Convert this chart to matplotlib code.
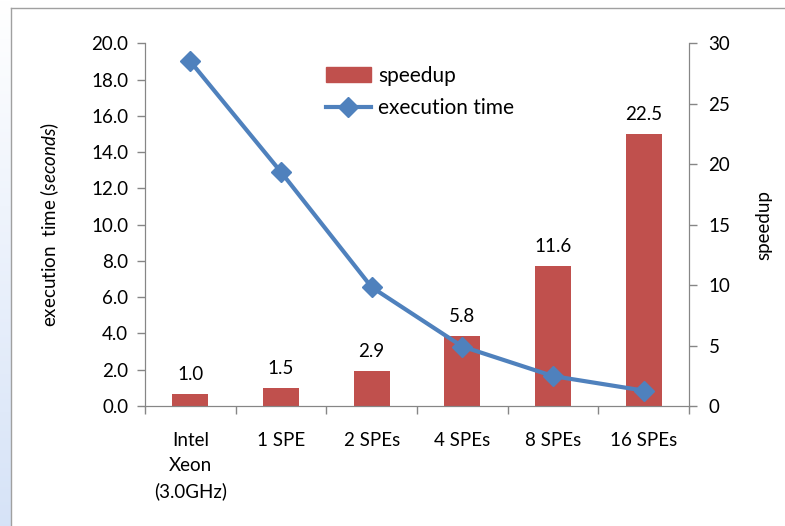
import numpy as np
import matplotlib
matplotlib.use("Agg")
import matplotlib.pyplot as plt
from matplotlib.lines import Line2D
from matplotlib.patches import Patch

plt.rcParams['font.family'] = ['Lato', 'DejaVu Sans']
plt.rcParams['mathtext.fontset'] = 'custom'
plt.rcParams['mathtext.rm'] = 'Lato'
plt.rcParams['mathtext.it'] = 'Lato:italic'

categories = ["Intel\nXeon\n(3.0GHz)", "1 SPE", "2 SPEs", "4 SPEs", "8 SPEs", "16 SPEs"]
exec_time = [19.0, 12.9, 6.55, 3.28, 1.65, 0.85]
speedup = [1.0, 1.5, 2.9, 5.8, 11.6, 22.5]
left_ticks = [0, 2, 4, 6, 8, 10, 12, 14, 16, 18, 20]
right_ticks = [0, 5, 10, 15, 20, 25, 30]

red = "#C0504D"
blue = "#4F81BD"
grey = "#868686"
fs = 13.5

fig = plt.figure(figsize=(7.85, 5.26), dpi=100)

# slide background strip and frame
strip = fig.add_axes([0, 0, 11 / 785, 1])
grad = np.linspace(0, 1, 256).reshape(-1, 1)
c0 = np.array([1.0, 1.0, 1.0])
c1 = np.array([0.84, 0.89, 0.97])
img = c0 + (c1 - c0) * grad[..., None]
strip.imshow(img, aspect="auto", extent=[0, 1, 0, 1], origin="upper")
strip.axis("off")
fig.add_artist(Line2D([11 / 785, 11 / 785], [0, 1 - 8 / 526], color="#a0a0a0", lw=1))
fig.add_artist(Line2D([11 / 785, 1], [1 - 8 / 526, 1 - 8 / 526], color="#a0a0a0", lw=1))

ax = fig.add_axes([145 / 785, 1 - 406 / 526, 544 / 785, 362.7 / 526])
ax2 = ax.twinx()
ax.set_zorder(ax2.get_zorder() + 1)
ax.patch.set_visible(False)

x = np.arange(len(categories))
bars = ax2.bar(x, speedup, width=0.4, color=red, zorder=2)
for xi, v in zip(x, speedup):
    ax2.annotate(f"{v:.1f}", (xi, v), xytext=(0, 8), textcoords="offset points",
                 ha="center", va="bottom", fontsize=fs)

ax.plot(x, exec_time, color=blue, lw=3, marker="D", markersize=10, zorder=3)

ax.set_xlim(-0.5, len(categories) - 0.5)
ax.set_ylim(0, 20)
ax2.set_ylim(0, 30)
ax.set_yticks(left_ticks)
ax.set_yticklabels([f"{t:.1f}" for t in left_ticks])
ax2.set_yticks(right_ticks)

# category labels centred, separator ticks between categories
ax.set_xticks(np.arange(-0.5, len(categories), 1.0))
ax.set_xticklabels([])
ax.set_xticks(x, minor=True)
ax.set_xticklabels(categories, minor=True, linespacing=1.55, va="top", fontsize=fs)
ax.tick_params(axis="x", which="minor", length=0, pad=19)
ax.tick_params(axis="x", which="major", length=6, color=grey, width=1)
ax.tick_params(axis="y", length=6, color=grey, width=1, labelsize=fs, pad=6)
ax2.tick_params(axis="y", length=6, color=grey, width=1, labelsize=fs, pad=8)

for a in (ax, ax2):
    a.spines["top"].set_visible(False)
    for s in ("left", "right", "bottom"):
        a.spines[s].set_color(grey)
ax2.tick_params(axis="x", length=0)

ax.set_ylabel(r"execution  time ($\it{seconds}$)", fontsize=fs, labelpad=22)
ax2.set_ylabel("speedup", fontsize=fs, labelpad=18)

handles = [Patch(color=red), Line2D([], [], color=blue, lw=3, marker="D", markersize=10)]
ax.legend(handles, ["speedup", "execution time"], loc="upper left",
          bbox_to_anchor=(307 / 785, 1 - 47 / 526), bbox_transform=fig.transFigure,
          frameon=False, fontsize=15, handlelength=2.15, handleheight=0.72,
          handletextpad=0.35, labelspacing=0.6)

fig.savefig("out.png", dpi=100)
